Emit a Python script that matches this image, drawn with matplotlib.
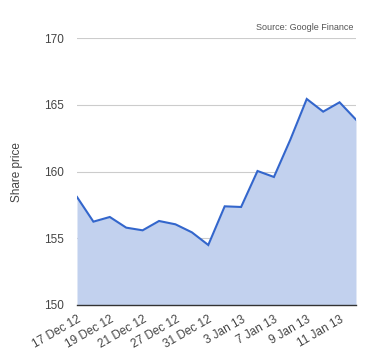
import matplotlib
matplotlib.use("Agg")
import matplotlib.pyplot as plt

# trading days, 17 Dec 2012 - 14 Jan 2013
dates = ["17 Dec 12", "18 Dec 12", "19 Dec 12", "20 Dec 12", "21 Dec 12", "24 Dec 12",
         "27 Dec 12", "28 Dec 12", "31 Dec 12", "2 Jan 13", "3 Jan 13", "4 Jan 13",
         "7 Jan 13", "8 Jan 13", "9 Jan 13", "10 Jan 13", "11 Jan 13", "14 Jan 13"]
prices = [158.1, 156.25, 156.6, 155.8, 155.6, 156.3, 156.05, 155.45, 154.5,
          157.4, 157.35, 160.05, 159.6, 162.4, 165.45, 164.5, 165.2, 163.9]
y_ticks = [150, 155, 160, 165, 170]

plt.rcParams["font.family"] = ["Liberation Sans", "DejaVu Sans"]

fig = plt.figure(figsize=(3.8, 3.6), dpi=100)
ax = fig.add_axes([0.2026, 0.1528, 0.7342, 0.7408])

x = list(range(len(prices)))
ax.fill_between(x, prices, 150, color="#c2d1ee", lw=0)
ax.plot(x, prices, color="#3366cc", lw=1.5, solid_joinstyle="miter")

ax.set_xlim(0, len(prices) - 1)
ax.set_ylim(150, 170)
ax.set_yticks(y_ticks)
ax.set_xticks(x[::2])
ax.set_xticklabels(dates[::2], rotation=30, ha="right", rotation_mode="anchor")
ax.tick_params(axis="both", length=0, labelsize=8.5, colors="#444444")
ax.tick_params(axis="y", pad=9.5)
ax.tick_params(axis="x", pad=6)
ax.grid(axis="y", color="#cccccc", lw=0.8)
ax.set_axisbelow(True)
for s in ["top", "right", "left"]:
    ax.spines[s].set_visible(False)
ax.spines["bottom"].set_color("#333333")
ax.spines["bottom"].set_linewidth(1.0)
ax.spines["bottom"].set_zorder(5)

ax.set_ylabel("Share price", fontsize=8.5, color="#444444", labelpad=15)
ax.text(0.99, 1.025, "Source: Google Finance", transform=ax.transAxes,
        ha="right", va="bottom", fontsize=6.5, color="#555555")

fig.savefig("out.png", dpi=100)
